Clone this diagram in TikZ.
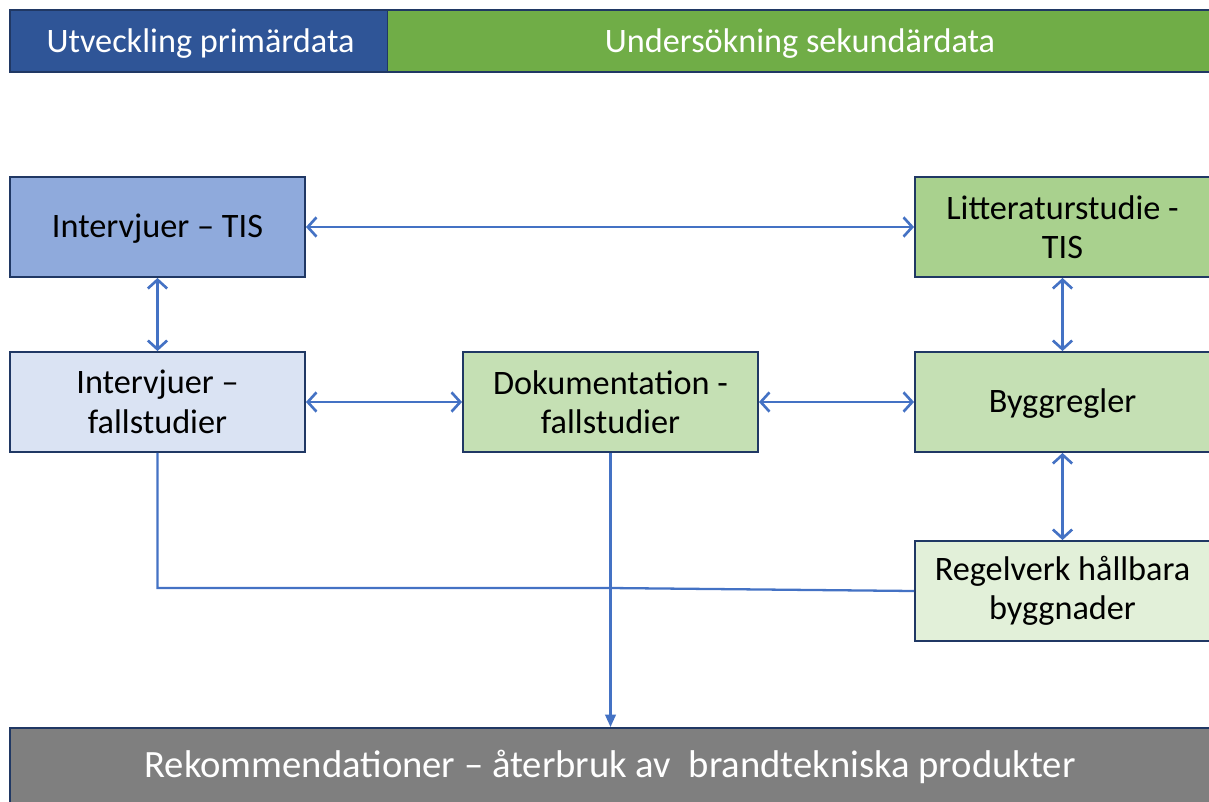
\documentclass[tikz,border=0pt]{standalone}
\usepackage{fontspec}
\setmainfont{Carlito}
\usetikzlibrary{arrows.meta}
\definecolor{barblue}{HTML}{2F5597}
\definecolor{bargreen}{HTML}{70AD47}
\definecolor{edge}{HTML}{203864}
\definecolor{link}{HTML}{4472C4}
\definecolor{blueA}{HTML}{8FAADC}
\definecolor{blueB}{HTML}{DAE3F3}
\definecolor{greenA}{HTML}{A9D18E}
\definecolor{greenB}{HTML}{C5E0B4}
\definecolor{greenC}{HTML}{E2F0D9}
\definecolor{bargray}{HTML}{7F7F7F}
\tikzset{
  box/.style={draw=edge, line width=1.1pt, minimum width=5.9cm, minimum height=2cm,
    inner sep=2pt, align=center, font=\fontsize{19.5}{22.5}\selectfont, text=black},
  oneline/.style={text height=13.5pt, text depth=2pt},
  band/.style={draw=edge, line width=0.9pt, inner sep=0pt, font=\fontsize{19.5}{23}\selectfont, text=white},
  both/.style={link, line width=1.5pt, {Straight Barb[length=5pt,width=11pt]}-{Straight Barb[length=5pt,width=11pt]}},
  plain/.style={link, line width=1.3pt},
  into/.style={link, line width=1.2pt, -{Triangle[length=7pt,width=6pt]}}
}
\begin{document}
\begin{tikzpicture}[x=0.02cm,y=-0.02cm]
\useasboundingbox (0,0) rectangle (1209,801);
\clip (0,0) rectangle (1209,801);

% phase headers
\node[band, fill=barblue, minimum width=7.62cm, minimum height=1.24cm,
  text height=15pt, text depth=1.5pt] (prim) at (200.5,41) {Utveckling primärdata};
\node[band, fill=bargreen, minimum width=16.5cm, minimum height=1.24cm,
  text height=15pt, text depth=1.5pt] (sek) at (800,41) {Undersökning sekundärdata};

% study boxes
\node[box, oneline, fill=blueA] (itis) at (157.5,227) {Intervjuer – TIS};
\node[box, fill=greenA] (ltis) at (1062.5,227) {Litteraturstudie -\\TIS};
\node[box, fill=blueB] (ifall) at (157.5,402) {Intervjuer –\\fallstudier};
\node[box, fill=greenB] (dfall) at (610.5,402) {Dokumentation -\\fallstudier};
\node[box, oneline, fill=greenB] (bygg) at (1062.5,402) {Byggregler};
\node[box, fill=greenC] (regel) at (1062.5,591) {Regelverk hållbara\\byggnader};

% result band
\node[band, fill=bargray, minimum width=24cm, minimum height=1.8cm, anchor=north,
  font=\fontsize{22}{26}\selectfont, text height=10pt, text depth=4.5pt] (rek) at (610,727)
  {Rekommendationer – återbruk av\ \ brandtekniska produkter};

% connectors
\draw[both] (itis) -- (ltis);
\draw[both] (itis) -- (ifall);
\draw[both] (ifall) -- (dfall);
\draw[both] (dfall) -- (bygg);
\draw[both] (ltis) -- (bygg);
\draw[both] (bygg) -- (regel);
\coordinate (join) at (610,588);
\draw[plain] (ifall.south) |- (join) -- (regel.west);
\draw[into] (dfall.south) -- (rek.north -| dfall.south);
\end{tikzpicture}
\end{document}
